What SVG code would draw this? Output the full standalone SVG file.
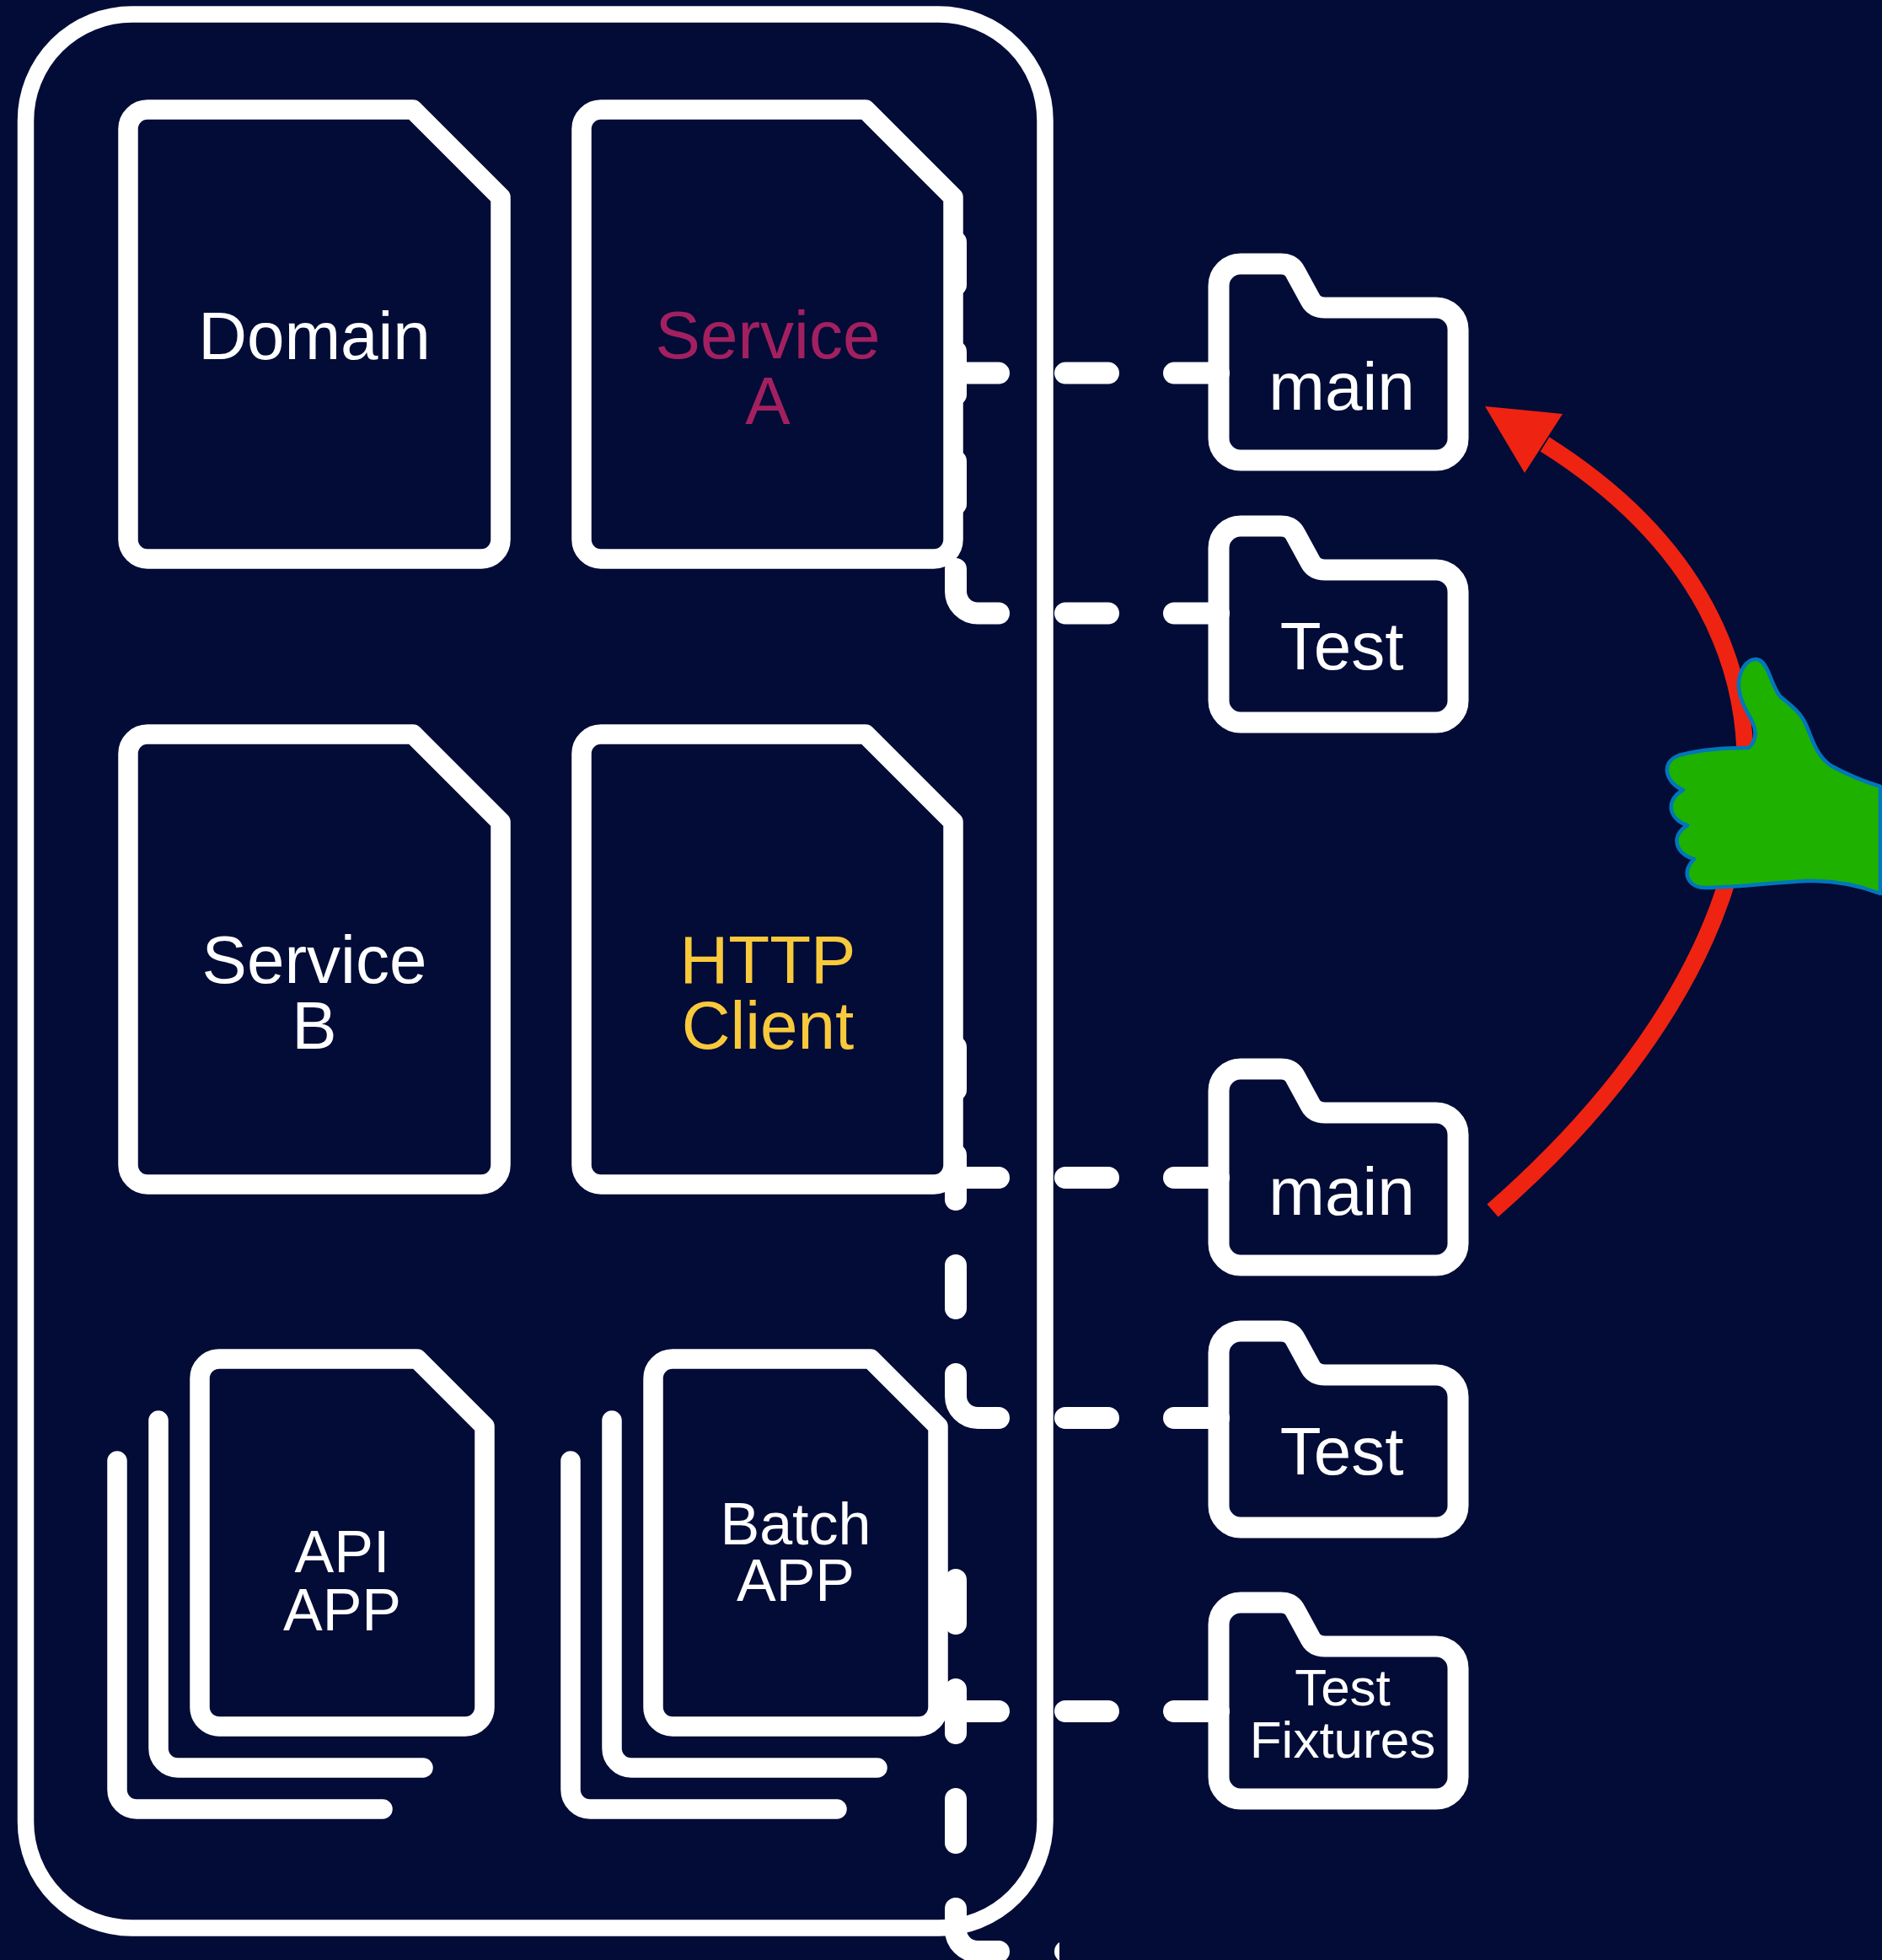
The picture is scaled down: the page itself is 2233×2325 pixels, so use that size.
<svg xmlns="http://www.w3.org/2000/svg" width="2233" height="2325" viewBox="0 0 2233 2325">
  <defs>
    <style>
      .bg { fill: #020c37; }
      .frame { fill: none; stroke: #ffffff; stroke-width: 19.5; }
      .doc { fill: none; stroke: #ffffff; stroke-width: 23.5; stroke-linejoin: round; stroke-linecap: round; }
      .folder { fill: none; stroke: #ffffff; stroke-width: 25; stroke-linejoin: round; }
      .dash { fill: none; stroke: #ffffff; stroke-width: 26; stroke-linecap: round; }
      .lbl { font-family: "Liberation Sans", Arial, Helvetica, sans-serif; text-anchor: middle; fill: #ffffff; }
      .big { font-size: 80px; }
      .mid { font-size: 70px; }
      .small { font-size: 62px; }
      .magenta { fill: #a32060; }
      .yellow { fill: #f9c93c; }
      .flow { fill: none; stroke: #ef2312; stroke-width: 20; }
      .head { fill: #ef2312; }
      .hand { fill: #1eb100; stroke: #0077bb; stroke-width: 4.5; stroke-linejoin: round; }
    </style>
    <!-- folder outline, origin at the left end of the tab top -->
    <path id="folder-shape" d="M26,0 H74 Q86,0 91,10 L109,43 Q114,52 126,52 H258 A26,26 0 0 1 284,78 V207 A26,26 0 0 1 258,233 H26 A26,26 0 0 1 0,207 V26 A26,26 0 0 1 26,0 Z"/>
    <!-- only the leading cap of the last dash shows at the lower edge -->
    <clipPath id="edge-cut">
      <rect x="1240" y="2290" width="17" height="40"/>
    </clipPath>
  </defs>

  <rect class="bg" x="0" y="0" width="2233" height="2325"/>

  <!-- module boundary -->
  <g id="module">
    <rect class="frame" x="30.5" y="17" width="1209.5" height="2270" rx="126" ry="126"/>
  </g>

  <g id="domain">
    <path class="doc" d="M175,130 H490 L594,234 V640 A23,23 0 0 1 571,663 H175 A23,23 0 0 1 152,640 V153 A23,23 0 0 1 175,130 Z"/>
    <text class="lbl big" x="373" y="426">Domain</text>
  </g>

  <g id="service-a">
    <path class="doc" d="M713,130 H1027 L1131,234 V640 A23,23 0 0 1 1108,663 H713 A23,23 0 0 1 690,640 V153 A23,23 0 0 1 713,130 Z"/>
    <text class="lbl big magenta" x="911" y="425">Service<tspan x="911" dy="78">A</tspan></text>
  </g>

  <g id="service-b">
    <path class="doc" d="M175,871 H490 L594,975 V1382 A23,23 0 0 1 571,1405 H175 A23,23 0 0 1 152,1382 V894 A23,23 0 0 1 175,871 Z"/>
    <text class="lbl big" x="373" y="1166">Service<tspan x="373" dy="78">B</tspan></text>
  </g>

  <g id="http-client">
    <path class="doc" d="M713,871 H1027 L1131,975 V1382 A23,23 0 0 1 1108,1405 H713 A23,23 0 0 1 690,1382 V894 A23,23 0 0 1 713,871 Z"/>
    <text class="lbl big yellow" x="911" y="1166">HTTP<tspan x="911" dy="78">Client</tspan></text>
  </g>

  <g id="api-app">
    <path class="doc" d="M139,1733 V2123 A23,23 0 0 0 162,2146 H454"/>
    <path class="doc" d="M188,1685 V2074 A23,23 0 0 0 211,2097 H502"/>
    <path class="doc" d="M260,1612 H495 L575,1692 V2025 A23,23 0 0 1 552,2048 H260 A23,23 0 0 1 237,2025 V1635 A23,23 0 0 1 260,1612 Z"/>
    <text class="lbl mid" x="406" y="1865">API<tspan x="406" dy="69">APP</tspan></text>
  </g>

  <g id="batch-app">
    <path class="doc" d="M677,1733 V2123 A23,23 0 0 0 700,2146 H993"/>
    <path class="doc" d="M726,1685 V2074 A23,23 0 0 0 749,2097 H1041"/>
    <path class="doc" d="M798,1612 H1033 L1113,1692 V2025 A23,23 0 0 1 1090,2048 H798 A23,23 0 0 1 775,2025 V1635 A23,23 0 0 1 798,1612 Z"/>
    <text class="lbl mid" x="944" y="1832">Batch<tspan x="944" dy="67">APP</tspan></text>
  </g>

  <g id="folder-main-a">
    <use href="#folder-shape" class="folder" x="1446" y="313"/>
    <text class="lbl big" x="1592" y="486">main</text>
  </g>

  <g id="folder-test-a">
    <use href="#folder-shape" class="folder" x="1446" y="624"/>
    <text class="lbl big" x="1592" y="794">Test</text>
  </g>

  <g id="folder-main-b">
    <use href="#folder-shape" class="folder" x="1446" y="1268"/>
    <text class="lbl big" x="1592" y="1441">main</text>
  </g>

  <g id="folder-test-b">
    <use href="#folder-shape" class="folder" x="1446" y="1579"/>
    <text class="lbl big" x="1592" y="1749">Test</text>
  </g>

  <g id="folder-test-fixtures">
    <use href="#folder-shape" class="folder" x="1446" y="1901"/>
    <text class="lbl small" x="1593" y="2023">Test<tspan x="1593" dy="62">Fixtures</tspan></text>
  </g>

  <g id="connectors">
    <!-- Service A to its main / Test folders -->
    <path class="dash" d="M1134,287 V338 M1134,417 V468 M1134,547 V598"/>
    <path class="dash" d="M1134,442.6 H1185 M1264,442.6 H1315 M1393,442.6 H1446"/>
    <path class="dash" d="M1134,675 V701.5 A26,26 0 0 0 1160,727.5 H1185 M1264,727.5 H1315 M1393,727.5 H1446"/>

    <!-- HTTP Client to its main / Test folders -->
    <path class="dash" d="M1134,1242 V1293 M1134,1370 V1423 M1134,1501 V1552"/>
    <path class="dash" d="M1134,1397 H1185 M1264,1397 H1315 M1393,1397 H1446"/>
    <path class="dash" d="M1134,1630 V1656 A26,26 0 0 0 1160,1682 H1185 M1264,1682 H1315 M1393,1682 H1446"/>

    <!-- Batch APP to Test Fixtures and onward -->
    <path class="dash" d="M1134,1874 V1926 M1134,2004 V2056 M1134,2134 V2186"/>
    <path class="dash" d="M1134,2030 H1185 M1264,2030 H1315 M1393,2030 H1446"/>
    <path class="dash" d="M1134,2264 V2289 A26,26 0 0 0 1160,2315 H1185"/>
    <path class="dash" clip-path="url(#edge-cut)" d="M1264,2315 H1315"/>

    <!-- red flow from the lower main up to the upper main -->
    <path class="flow" d="M1771,1436 C2125,1126 2190,752 1833,527"/>
    <polygon class="head" points="1762,482 1854,491 1809,561"/>
  </g>

  <g id="thumbs-up">
    <path class="hand" d="M2075,887
      C2082,880 2085,870 2080,858
      C2074,845 2064,832 2063,815
      C2062,797 2072,782 2083,782
      C2090,782 2094,788 2098,797
      C2102,806 2106,818 2112,826
      C2124,836 2136,844 2143,860
      C2150,876 2155,896 2172,908
      C2190,918 2212,927 2231,933
      L2231,1060
      C2205,1050 2175,1044 2145,1045
      C2100,1047 2060,1053 2023,1053
      C2005,1053 1993,1037 2010,1019
      C1990,1014 1980,993 2002,979
      C1984,974 1972,952 1997,937
      C1978,930 1968,905 1992,896
      C2010,891 2040,887 2075,887 Z"/>
  </g>
</svg>
